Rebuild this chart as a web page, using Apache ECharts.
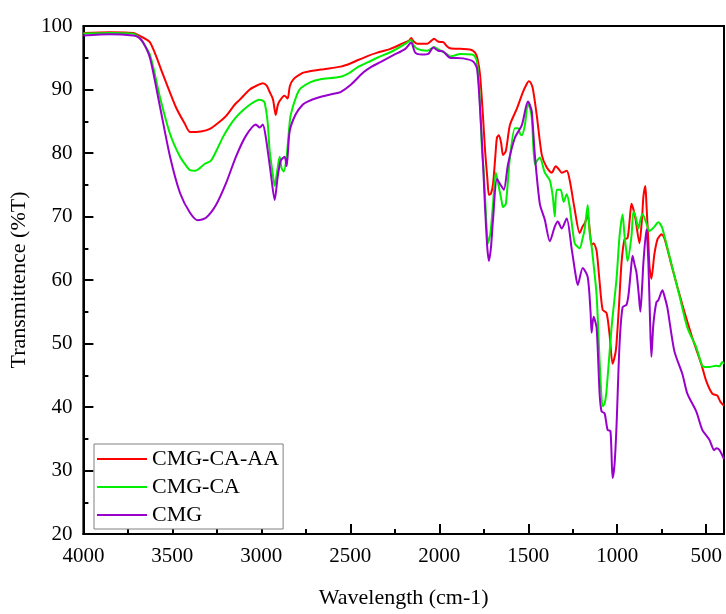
<!DOCTYPE html>
<html>
<head>
<meta charset="utf-8">
<script src="https://cdn.jsdelivr.net/npm/echarts@6/dist/echarts.min.js"></script>
<style>
  html, body { margin: 0; padding: 0; background: #fff; }
  #main { width: 726px; height: 614px; }
</style>
</head>
<body>
<div id="main"></div>
<script>
// spectra: [wavenumber, %T]
var cmgCaAa = [
  [4000, 98.9], [3850, 99.0], [3720, 98.9], [3680, 98.4], [3625, 97.4], [3552, 92.3], [3480, 87.2],
  [3430, 84.6], [3400, 83.3], [3340, 83.4], [3289, 83.8], [3240, 84.8], [3199, 85.8], [3150, 87.6],
  [3121, 88.4], [3065, 90.0], [3020, 90.7], [2992, 91.0], [2970, 90.6], [2953, 89.6], [2935, 88.5],
  [2919, 86.0], [2908, 87.5], [2897, 88.2], [2870, 89.0], [2852, 88.6], [2840, 90.5], [2820, 91.6],
  [2768, 92.6], [2740, 92.8], [2650, 93.2], [2555, 93.6], [2500, 94.1], [2460, 94.6], [2400, 95.3],
  [2348, 95.8], [2275, 96.4], [2202, 97.3], [2170, 97.7], [2158, 98.1], [2145, 97.6], [2124, 97.2],
  [2068, 97.2], [2040, 97.8], [2029, 98.0], [2010, 97.6], [1995, 97.5], [1979, 97.5], [1960, 96.9],
  [1939, 96.5], [1880, 96.4], [1827, 96.3], [1799, 95.8], [1785, 94.8], [1771, 92.3], [1755, 86.0],
  [1743, 80.5], [1730, 76.0], [1721, 73.4], [1710, 73.6], [1698, 75.1], [1685, 79.5], [1676, 82.4],
  [1665, 82.8], [1652, 81.5], [1642, 79.7], [1626, 80.3], [1603, 84.4], [1564, 87.0], [1530, 89.6],
  [1510, 90.8], [1497, 91.3], [1485, 91.0], [1474, 90.1], [1452, 85.9], [1424, 79.7], [1396, 77.7],
  [1368, 76.9], [1346, 77.9], [1330, 77.5], [1312, 76.9], [1284, 77.2], [1267, 75.7], [1239, 71.1],
  [1211, 67.4], [1195, 68.4], [1183, 68.9], [1166, 70.2], [1155, 68.0], [1144, 65.5], [1133, 65.8],
  [1116, 64.6], [1100, 60.0], [1082, 55.3], [1060, 54.8], [1043, 51.4], [1026, 46.8], [1010, 48.5],
  [1004, 50.0], [990, 56.0], [976, 62.7], [959, 66.4], [942, 66.6], [930, 69.5], [920, 72.0],
  [910, 71.2], [898, 69.7], [875, 65.8], [860, 70.0], [853, 73.1], [842, 74.8], [836, 72.0],
  [825, 66.0], [819, 62.2], [808, 60.2], [791, 64.1], [774, 66.4], [760, 67.0], [752, 67.2],
  [735, 66.6], [690, 61.8], [634, 56.1], [578, 50.9], [528, 46.8], [500, 44.1], [466, 42.1],
  [438, 41.8], [420, 40.8], [400, 40.2]
];

var cmgCa = [
  [4000, 98.8], [3850, 98.9], [3720, 98.8], [3690, 98.3], [3675, 97.8], [3625, 95.4], [3569, 88.7],
  [3513, 83.0], [3457, 79.4], [3420, 77.9], [3401, 77.3], [3370, 77.2], [3356, 77.4], [3317, 78.3],
  [3283, 78.8], [3250, 80.5], [3216, 82.5], [3180, 84.2], [3143, 85.6], [3100, 86.8], [3065, 87.6],
  [3030, 88.2], [3009, 88.4], [2990, 88.2], [2981, 87.9], [2965, 85.0], [2953, 80.3], [2935, 76.5],
  [2925, 74.8], [2912, 77.0], [2897, 79.4], [2886, 77.6], [2874, 77.1], [2858, 79.4], [2845, 83.5],
  [2835, 86.0], [2800, 89.2], [2779, 90.2], [2720, 91.2], [2667, 91.6], [2555, 92.0], [2500, 92.7],
  [2460, 93.5], [2400, 94.3], [2348, 95.0], [2258, 96.1], [2191, 97.2], [2158, 97.8], [2145, 97.0],
  [2124, 96.4], [2068, 96.1], [2040, 96.5], [2029, 96.7], [2006, 96.3], [1984, 96.0], [1960, 95.6],
  [1939, 95.2], [1910, 95.4], [1883, 95.6], [1816, 95.5], [1800, 95.2], [1788, 94.3], [1775, 90.0],
  [1760, 80.4], [1750, 77.0], [1740, 71.5], [1726, 65.8], [1712, 67.5], [1698, 72.0], [1682, 76.9],
  [1665, 74.6], [1650, 72.5], [1642, 71.5], [1626, 72.0], [1603, 79.3], [1575, 83.9], [1558, 83.9],
  [1545, 83.0], [1536, 82.8], [1519, 84.4], [1502, 87.8], [1490, 87.0], [1480, 85.5], [1463, 78.2],
  [1450, 78.8], [1435, 79.3], [1407, 76.9], [1379, 75.7], [1362, 73.1], [1351, 70.0], [1340, 74.2],
  [1318, 74.2], [1301, 72.3], [1284, 73.5], [1267, 71.5], [1239, 65.8], [1211, 65.0], [1195, 66.5],
  [1183, 68.0], [1166, 71.8], [1155, 67.4], [1144, 65.3], [1116, 57.6], [1099, 47.2], [1082, 40.1],
  [1071, 40.5], [1060, 42.6], [1032, 52.5], [1004, 60.2], [987, 66.9], [970, 70.3], [959, 67.0],
  [948, 64.3], [942, 63.0], [920, 66.9], [909, 70.8], [895, 69.8], [881, 68.1], [870, 69.5],
  [858, 70.4], [836, 68.9], [819, 67.7], [805, 68.0], [791, 68.4], [769, 69.1], [758, 68.8],
  [746, 68.1], [707, 63.8], [651, 57.6], [606, 52.5], [556, 49.4], [522, 46.5], [500, 46.3],
  [483, 46.3], [444, 46.5], [425, 46.4], [410, 47.1], [400, 46.8]
];

var cmg = [
  [4000, 98.5], [3850, 98.7], [3720, 98.5], [3690, 98.2], [3664, 97.4], [3625, 94.9], [3569, 87.2],
  [3513, 79.4], [3457, 73.7], [3401, 70.6], [3356, 69.4], [3311, 69.8], [3255, 71.8], [3199, 75.2],
  [3143, 79.4], [3087, 82.7], [3031, 84.5], [3009, 84.0], [2992, 84.5], [2975, 82.5], [2947, 76.8],
  [2925, 72.6], [2908, 76.3], [2891, 78.8], [2869, 79.4], [2858, 77.9], [2841, 83.4], [2807, 86.1],
  [2768, 87.6], [2740, 88.1], [2684, 88.7], [2600, 89.3], [2555, 89.6], [2499, 90.7], [2426, 92.7],
  [2380, 93.6], [2331, 94.3], [2258, 95.4], [2191, 96.4], [2158, 97.4], [2135, 95.8], [2096, 95.5],
  [2062, 95.6], [2034, 96.6], [2006, 96.1], [1979, 96.0], [1939, 95.0], [1866, 94.9], [1810, 94.4],
  [1788, 93.3], [1771, 87.0], [1757, 80.0], [1743, 71.5], [1730, 65.0], [1721, 63.0], [1710, 65.0],
  [1698, 69.5], [1676, 75.9], [1654, 74.9], [1637, 74.2], [1614, 78.2], [1575, 82.4], [1536, 84.4],
  [1502, 88.1], [1490, 87.5], [1480, 86.5], [1463, 79.7], [1435, 72.0], [1407, 69.5], [1379, 66.1],
  [1351, 68.4], [1334, 69.2], [1312, 68.1], [1284, 69.7], [1256, 64.9], [1235, 61.0], [1222, 59.2],
  [1194, 61.9], [1166, 60.5], [1150, 55.0], [1144, 51.7], [1133, 54.2], [1116, 52.5], [1099, 42.1],
  [1088, 39.3], [1071, 39.0], [1054, 36.4], [1038, 36.2], [1026, 28.8], [1015, 31.0], [1004, 37.0],
  [987, 49.9], [970, 55.7], [948, 56.1], [937, 57.6], [925, 61.0], [914, 63.8], [903, 62.5],
  [892, 61.2], [880, 58.0], [870, 55.0], [860, 59.0], [853, 62.7], [836, 68.0], [825, 62.7],
  [815, 53.0], [808, 47.9], [797, 53.0], [780, 56.5], [769, 56.8], [746, 58.4], [735, 57.5],
  [718, 55.6], [679, 48.8], [634, 45.2], [606, 42.1], [556, 39.3], [522, 36.4], [483, 34.9],
  [455, 33.2], [444, 33.5], [427, 33.3], [400, 31.8]
];

var seriesNames = ['CMG-CA-AA', 'CMG-CA', 'CMG'];
var seriesColors = ['#ff0000', '#00ee00', '#9900cc'];
var seriesData = [cmgCaAa, cmgCa, cmg];

var majorX = [4000, 3500, 3000, 2500, 2000, 1500, 1000, 500];
var minorX = [3750, 3250, 2750, 2250, 1750, 1250, 750];

var font = 'Liberation Serif';

var chart = echarts.init(document.getElementById('main'));

var series = seriesData.map(function (d, i) {
  return {
    name: seriesNames[i],
    type: 'line',
    data: d,
    showSymbol: false,
    symbol: 'none',
    smooth: 0.25,
    xAxisIndex: 0,
    yAxisIndex: 0,
    lineStyle: { color: seriesColors[i], width: 2 },
    itemStyle: { color: seriesColors[i] }
  };
});

chart.setOption({
  animation: false,
  backgroundColor: '#fff',
  grid: {
    left: 82, right: 2, top: 26, bottom: 71,
    show: true, borderColor: '#000', borderWidth: 2, backgroundColor: 'transparent'
  },
  legend: {
    orient: 'vertical',
    left: 94, top: 444,
    data: seriesNames,
    icon: 'rect',
    itemWidth: 50, itemHeight: 2,
    itemGap: 6,
    padding: [4, 4, 3, 3],
    borderColor: '#808080', borderWidth: 1,
    backgroundColor: '#fff',
    textStyle: { fontFamily: font, fontSize: 22, color: '#000' }
  },
  xAxis: [{
    type: 'value',
    min: 400, max: 4000, inverse: true,
    name: 'Wavelength (cm-1)',
    nameLocation: 'middle', nameGap: 53,
    nameTextStyle: { fontFamily: font, fontSize: 22, color: '#000' },
    axisLine: { show: true, lineStyle: { color: '#000', width: 2 } },
    axisTick: { show: true, inside: true, length: 10, customValues: majorX,
      lineStyle: { color: '#000', width: 2 } },
    axisLabel: { customValues: majorX, margin: 12,
      formatter: function (v) { return String(v); },
      fontFamily: font, fontSize: 21, color: '#000' },
    splitLine: { show: false }
  }, {
    type: 'value',
    min: 400, max: 4000, inverse: true,
    position: 'bottom',
    axisLine: { show: false },
    axisTick: { show: true, inside: true, length: 5, customValues: minorX,
      lineStyle: { color: '#000', width: 2 } },
    axisLabel: { show: false },
    splitLine: { show: false }
  }],
  yAxis: {
    type: 'value',
    min: 20, max: 100, interval: 10,
    name: 'Transmittence (%T)',
    nameLocation: 'middle', nameGap: 49,
    nameTextStyle: { fontFamily: font, fontSize: 22, color: '#000' },
    axisLine: { show: true, lineStyle: { color: '#000', width: 2 } },
    axisTick: { show: true, inside: true, length: 10, lineStyle: { color: '#000', width: 2 } },
    minorTick: { show: true, splitNumber: 2, length: 5, lineStyle: { color: '#000', width: 2 } },
    axisLabel: { margin: 11, fontFamily: font, fontSize: 21, color: '#000' },
    splitLine: { show: false },
    minorSplitLine: { show: false }
  },
  series: series
});
</script>
</body>
</html>
